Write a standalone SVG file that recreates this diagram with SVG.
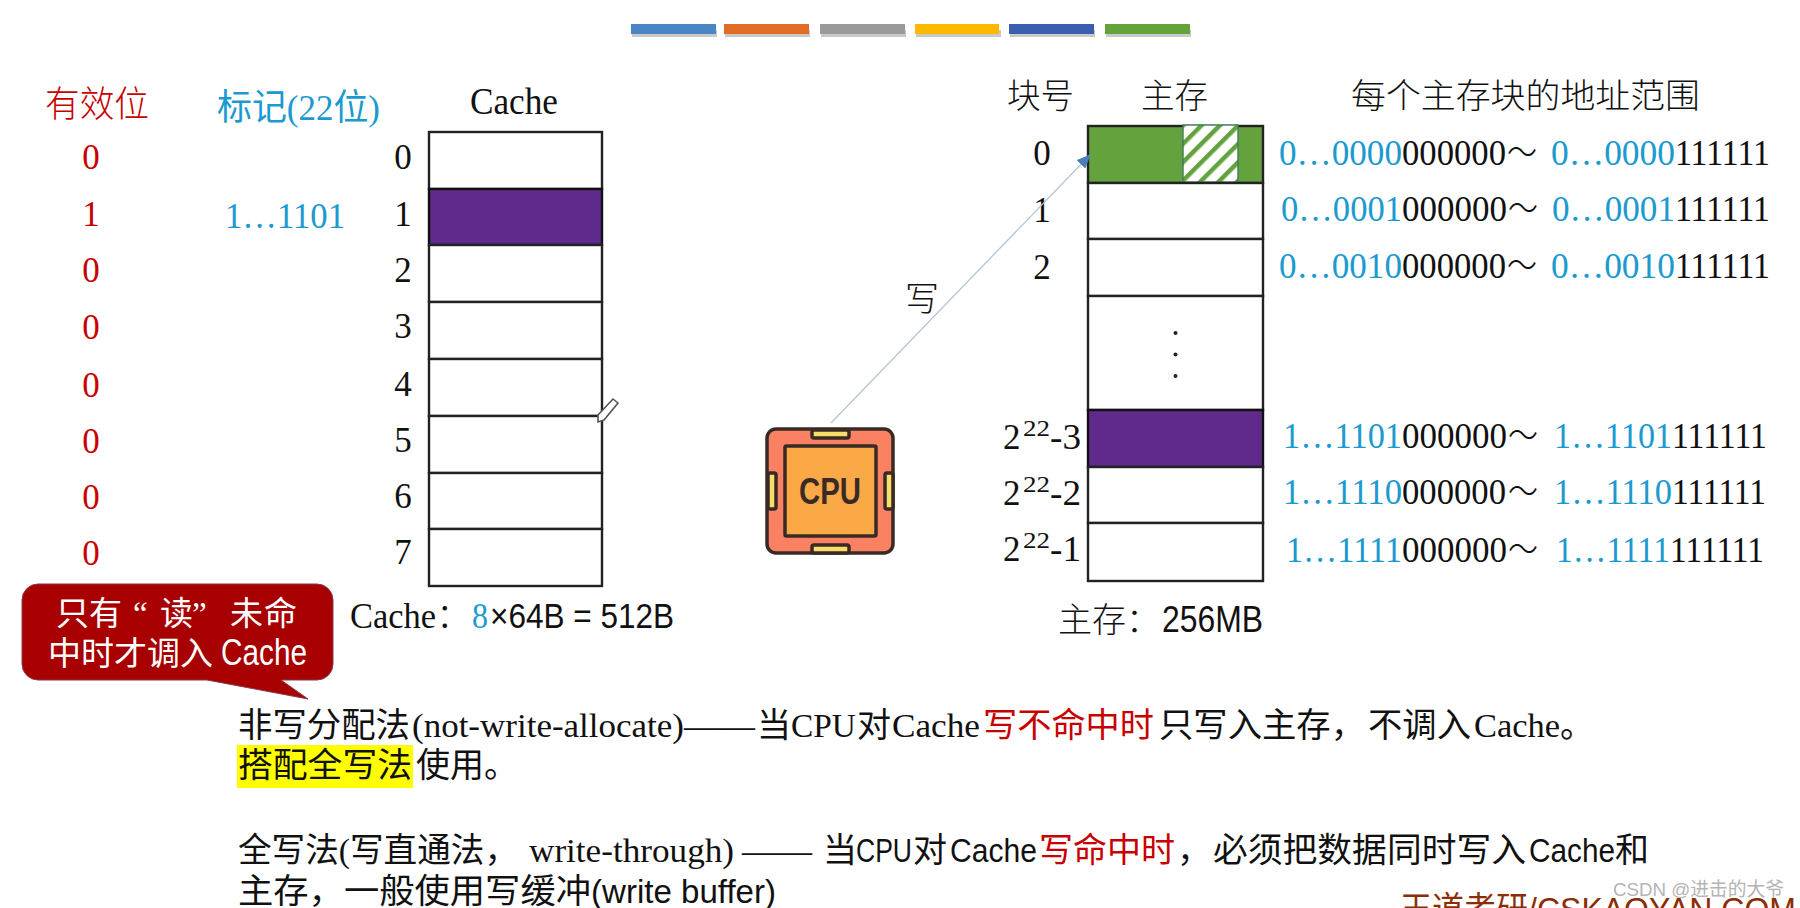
<svg xmlns="http://www.w3.org/2000/svg" width="1800" height="908" viewBox="0 0 1800 908">
<style>
text{font-family:"Liberation Serif","Noto Sans CJK SC",serif;fill:#111;font-size:34px}
.san{font-family:"Liberation Sans","Noto Sans CJK SC",sans-serif}
.cjk{font-family:"Noto Sans CJK SC","Liberation Serif",sans-serif;font-weight:300}
.r{fill:#C80000}.b{fill:#1C9AD0}.w{fill:#fff}.m{text-anchor:middle}
.d{font-size:35px}
.cell{fill:#fff;stroke:#222;stroke-width:2.4}
.pur{fill:#5F2A8C;stroke:#111;stroke-width:2.4}
.grn{fill:#63A23C;stroke:#222;stroke-width:2.4}
.tab{fill:#F8DD6B;stroke:#3A2A25;stroke-width:3.5}
.dot{fill:#222}
</style>
<defs>
<pattern id="hatch" width="13" height="13" patternUnits="userSpaceOnUse" patternTransform="rotate(45)">
<rect width="13" height="13" fill="#fff"/><rect width="4.500" height="13" fill="#63A23C" x="0"/>
</pattern>
<marker id="arrow" markerUnits="userSpaceOnUse" markerWidth="14" markerHeight="12" refX="13" refY="6" orient="auto"><path d="M0 0L14 6L0 12Z" fill="#4A7EBB"/></marker>
</defs>
<rect width="1800" height="908" fill="#fff"/>
<g id="top-bars">
<g fill="#888" opacity=".45"><rect x="632" y="30" width="85" height="7"/><rect x="725" y="30" width="85" height="7"/><rect x="821" y="30" width="85" height="7"/><rect x="916" y="30" width="85" height="7"/><rect x="1010" y="30" width="85" height="7"/><rect x="1106" y="30" width="85" height="7"/></g>
<rect x="631" y="24" width="85" height="10" fill="#4A86C5"/><rect x="724" y="24" width="85" height="10" fill="#E06C25"/><rect x="820" y="24" width="85" height="10" fill="#9A9A9A"/><rect x="915" y="24" width="84" height="10" fill="#FDB900"/><rect x="1009" y="24" width="85" height="10" fill="#3A5FAF"/><rect x="1105" y="24" width="85" height="10" fill="#64A23C"/>
</g>
<g id="valid-column">
<text class="cjk r" x="45" y="117" style="font-size:36px" textLength="104" lengthAdjust="spacingAndGlyphs">有效位</text>
<text class="r m d" x="91" y="169">0</text><text class="r m d" x="91" y="226">1</text><text class="r m d" x="91" y="282">0</text><text class="r m d" x="91" y="339">0</text><text class="r m d" x="91" y="397">0</text><text class="r m d" x="91" y="453">0</text><text class="r m d" x="91" y="509">0</text><text class="r m d" x="91" y="565">0</text>
</g>
<g id="tag-column">
<text class="b" x="217" y="120" style="font-size:36px" textLength="163" lengthAdjust="spacingAndGlyphs">标记(22位)</text>
<text class="b d" x="225" y="228" textLength="120" lengthAdjust="spacingAndGlyphs">1…1101</text>
</g>
<g id="cache">
<text x="470" y="114" style="font-size:37px" textLength="88" lengthAdjust="spacingAndGlyphs">Cache</text>
<g id="cache-rows">
<rect class="cell" x="429" y="132" width="173" height="57"/>
<rect class="pur" x="429" y="189" width="173" height="56"/>
<rect class="cell" x="429" y="245" width="173" height="57"/>
<rect class="cell" x="429" y="302" width="173" height="57"/>
<rect class="cell" x="429" y="359" width="173" height="57"/>
<rect class="cell" x="429" y="416" width="173" height="57"/>
<rect class="cell" x="429" y="473" width="173" height="56"/>
<rect class="cell" x="429" y="529" width="173" height="57"/>
</g>
<text class="m d" x="403" y="169">0</text><text class="m d" x="403" y="226">1</text><text class="m d" x="403" y="282">2</text><text class="m d" x="403" y="338">3</text><text class="m d" x="403" y="396">4</text><text class="m d" x="403" y="452">5</text><text class="m d" x="403" y="508">6</text><text class="m d" x="403" y="564">7</text>
<path d="M598 415L613 399L618 403L604 420L598 422Z" fill="#fff" stroke="#555" stroke-width="1.600"/>
</g>
<g id="cache-size">
<text y="628" style="font-size:35px"><tspan x="350" textLength="86" lengthAdjust="spacingAndGlyphs">Cache</tspan><tspan class="cjk" x="436">：</tspan><tspan class="b" x="472" textLength="16" lengthAdjust="spacingAndGlyphs">8</tspan><tspan class="san" x="490" textLength="184" lengthAdjust="spacingAndGlyphs">×64B = 512B</tspan></text>
</g>
<g id="memory">
<text class="cjk" x="1007" y="108" style="font-size:34px" textLength="67" lengthAdjust="spacingAndGlyphs">块号</text>
<text class="cjk" x="1141" y="108" style="font-size:34px" textLength="67" lengthAdjust="spacingAndGlyphs">主存</text>
<text class="cjk" x="1351" y="108" style="font-size:34px" textLength="349" lengthAdjust="spacingAndGlyphs">每个主存块的地址范围</text>
<g id="memory-rows">
<rect x="1088" y="126" width="175" height="57" class="grn"/>
<rect x="1183" y="125" width="55" height="57" fill="url(#hatch)" stroke="#3F7A5A" stroke-width="1.400"/>
<rect class="cell" x="1088" y="183" width="175" height="56"/>
<rect class="cell" x="1088" y="239" width="175" height="57"/>
<rect class="cell" x="1088" y="296" width="175" height="114"/>
<rect class="pur" x="1088" y="410" width="175" height="57"/>
<rect class="cell" x="1088" y="467" width="175" height="56"/>
<rect class="cell" x="1088" y="523" width="175" height="58"/>
</g>
<circle class="dot" cx="1175.500" cy="333" r="2"/><circle class="dot" cx="1175.500" cy="354.500" r="2"/><circle class="dot" cx="1175.500" cy="376" r="2"/>
<text class="m d" x="1042" y="165">0</text><text class="m d" x="1042" y="222">1</text><text class="m d" x="1042" y="279">2</text>
<text class="d" y="449"><tspan x="1003">2</tspan><tspan x="1023" y="436" style="font-size:24px" textLength="27" lengthAdjust="spacingAndGlyphs">22</tspan><tspan x="1050" y="449" textLength="31" lengthAdjust="spacingAndGlyphs">-3</tspan></text>
<text class="d" y="505"><tspan x="1003">2</tspan><tspan x="1023" y="492" style="font-size:24px" textLength="27" lengthAdjust="spacingAndGlyphs">22</tspan><tspan x="1050" y="505" textLength="31" lengthAdjust="spacingAndGlyphs">-2</tspan></text>
<text class="d" y="561"><tspan x="1003">2</tspan><tspan x="1023" y="548" style="font-size:24px" textLength="27" lengthAdjust="spacingAndGlyphs">22</tspan><tspan x="1050" y="561" textLength="31" lengthAdjust="spacingAndGlyphs">-1</tspan></text>
</g>
<g id="addresses">
<text class="d" y="165"><tspan class="b" x="1279" textLength="123" lengthAdjust="spacingAndGlyphs">0…0000</tspan><tspan x="1402" textLength="104" lengthAdjust="spacingAndGlyphs">000000</tspan><tspan class="cjk" x="1507" textLength="30" lengthAdjust="spacingAndGlyphs">～</tspan><tspan class="b" x="1551" textLength="124" lengthAdjust="spacingAndGlyphs">0…0000</tspan><tspan x="1675" textLength="95" lengthAdjust="spacingAndGlyphs">111111</tspan></text>
<text class="d" y="221"><tspan class="b" x="1281" textLength="121" lengthAdjust="spacingAndGlyphs">0…0001</tspan><tspan x="1402" textLength="105" lengthAdjust="spacingAndGlyphs">000000</tspan><tspan class="cjk" x="1508" textLength="30" lengthAdjust="spacingAndGlyphs">～</tspan><tspan class="b" x="1552" textLength="123" lengthAdjust="spacingAndGlyphs">0…0001</tspan><tspan x="1675" textLength="95" lengthAdjust="spacingAndGlyphs">111111</tspan></text>
<text class="d" y="278"><tspan class="b" x="1279" textLength="123" lengthAdjust="spacingAndGlyphs">0…0010</tspan><tspan x="1402" textLength="104" lengthAdjust="spacingAndGlyphs">000000</tspan><tspan class="cjk" x="1507" textLength="30" lengthAdjust="spacingAndGlyphs">～</tspan><tspan class="b" x="1551" textLength="124" lengthAdjust="spacingAndGlyphs">0…0010</tspan><tspan x="1675" textLength="95" lengthAdjust="spacingAndGlyphs">111111</tspan></text>
<text class="d" y="448"><tspan class="b" x="1283" textLength="119" lengthAdjust="spacingAndGlyphs">1…1101</tspan><tspan x="1402" textLength="105" lengthAdjust="spacingAndGlyphs">000000</tspan><tspan class="cjk" x="1508" textLength="30" lengthAdjust="spacingAndGlyphs">～</tspan><tspan class="b" x="1554" textLength="118" lengthAdjust="spacingAndGlyphs">1…1101</tspan><tspan x="1672" textLength="95" lengthAdjust="spacingAndGlyphs">111111</tspan></text>
<text class="d" y="504"><tspan class="b" x="1283" textLength="119" lengthAdjust="spacingAndGlyphs">1…1110</tspan><tspan x="1402" textLength="104" lengthAdjust="spacingAndGlyphs">000000</tspan><tspan class="cjk" x="1508" textLength="30" lengthAdjust="spacingAndGlyphs">～</tspan><tspan class="b" x="1554" textLength="118" lengthAdjust="spacingAndGlyphs">1…1110</tspan><tspan x="1672" textLength="94" lengthAdjust="spacingAndGlyphs">111111</tspan></text>
<text class="d" y="562"><tspan class="b" x="1286" textLength="116" lengthAdjust="spacingAndGlyphs">1…1111</tspan><tspan x="1402" textLength="105" lengthAdjust="spacingAndGlyphs">000000</tspan><tspan class="cjk" x="1508" textLength="30" lengthAdjust="spacingAndGlyphs">～</tspan><tspan class="b" x="1556" textLength="114" lengthAdjust="spacingAndGlyphs">1…1111</tspan><tspan x="1670" textLength="94" lengthAdjust="spacingAndGlyphs">111111</tspan></text>
</g>
<g id="memory-size">
<text y="632"><tspan class="cjk" x="1058">主存：</tspan><tspan class="san" x="1162" textLength="101" lengthAdjust="spacingAndGlyphs" style="font-size:36px">256MB</tspan></text>
</g>
<g id="connectors">
<line x1="831" y1="423" x2="1090" y2="155" stroke="#B4C5D4" stroke-width="1.300" marker-end="url(#arrow)"/>
</g>
<g id="write-label"><text class="cjk" x="905" y="311" style="font-size:34px">写</text></g>
<g id="cpu">
<rect x="767" y="429" width="126" height="124" rx="9" fill="#FA8262" stroke="#3A2A25" stroke-width="3.500"/>
<rect x="785" y="446" width="91" height="90" rx="1.500" fill="#FBA846" stroke="#3A2A25" stroke-width="3.500"/>
<rect class="tab" x="812" y="430" width="37" height="8" rx="2"/><rect class="tab" x="812" y="545" width="37" height="8" rx="2"/><rect class="tab" x="768" y="473" width="8" height="36" rx="2"/><rect class="tab" x="885" y="473" width="8" height="36" rx="2"/>
<text class="san" x="799" y="504" style="font-size:36px;font-weight:700;fill:#3A2A25" textLength="62" lengthAdjust="spacingAndGlyphs">CPU</text>
</g>
<g id="callout">
<path d="M38 584H317A16 16 0 0 1 333 600V664A16 16 0 0 1 317 680H281L308 699L207 680H38A16 16 0 0 1 22 664V600A16 16 0 0 1 38 584Z" fill="#A80000" stroke="#8a3a4a" stroke-width="1"/>
<text class="w" y="625" style="font-size:33px"><tspan x="56">只</tspan><tspan x="89">有</tspan><tspan x="133">“</tspan><tspan x="160">读</tspan><tspan x="192">”</tspan><tspan x="230">未</tspan><tspan x="264">命</tspan></text>
<text class="w" y="665" style="font-size:33px"><tspan x="48">中时才调入</tspan><tspan class="san" x="221" textLength="86" lengthAdjust="spacingAndGlyphs" style="font-size:36px">Cache</tspan></text>
</g>
<g id="note-not-write-allocate">
<rect x="237" y="745" width="176" height="43" fill="#FFFF00"/>
<text y="737"><tspan x="238" textLength="172" lengthAdjust="spacingAndGlyphs">非写分配法</tspan><tspan x="412" textLength="272" lengthAdjust="spacingAndGlyphs">(not-write-allocate)</tspan><tspan x="684" textLength="71" lengthAdjust="spacingAndGlyphs">——</tspan><tspan x="757">当</tspan><tspan x="791" textLength="65" lengthAdjust="spacingAndGlyphs">CPU</tspan><tspan x="857">对</tspan><tspan x="892" textLength="88" lengthAdjust="spacingAndGlyphs">Cache</tspan><tspan class="r" x="983" textLength="171" lengthAdjust="spacingAndGlyphs">写不命中时</tspan><tspan x="1159" textLength="206" lengthAdjust="spacingAndGlyphs">只写入主存，</tspan><tspan x="1368" textLength="103" lengthAdjust="spacingAndGlyphs">不调入</tspan><tspan x="1474" textLength="86" lengthAdjust="spacingAndGlyphs">Cache</tspan><tspan x="1560">。</tspan></text>
<text y="777"><tspan x="238" textLength="174" lengthAdjust="spacingAndGlyphs">搭配全写法</tspan><tspan x="416">使用。</tspan></text>
</g>
<g id="note-write-through">
<text y="862"><tspan x="238" textLength="280" lengthAdjust="spacingAndGlyphs">全写法(写直通法，</tspan><tspan x="529" textLength="205" lengthAdjust="spacingAndGlyphs">write-through)</tspan><tspan x="742" textLength="70" lengthAdjust="spacingAndGlyphs">——</tspan><tspan x="823">当</tspan><tspan class="san" x="856" textLength="56" lengthAdjust="spacingAndGlyphs">CPU</tspan><tspan x="913">对</tspan><tspan class="san" x="950" textLength="87" lengthAdjust="spacingAndGlyphs">Cache</tspan><tspan class="r" x="1039" textLength="136" lengthAdjust="spacingAndGlyphs">写命中时</tspan><tspan x="1177">，</tspan><tspan x="1213" textLength="313" lengthAdjust="spacingAndGlyphs">必须把数据同时写入</tspan><tspan class="san" x="1529" textLength="86" lengthAdjust="spacingAndGlyphs">Cache</tspan><tspan x="1615">和</tspan></text>
<text y="903"><tspan x="238" textLength="353" lengthAdjust="spacingAndGlyphs">主存，一般使用写缓冲</tspan><tspan class="san" x="591" textLength="185" lengthAdjust="spacingAndGlyphs">(write buffer)</tspan></text>
</g>
<g id="watermarks">
<text class="san" x="1400" y="921" style="font-size:34px;fill:#8B2E05" textLength="396" lengthAdjust="spacingAndGlyphs">王道考研/CSKAOYAN.COM</text>
<text class="san" x="1613" y="896" style="font-size:19px;fill:#B4B4B4" textLength="171" lengthAdjust="spacingAndGlyphs">CSDN @进击的大爷</text>
</g>
</svg>
